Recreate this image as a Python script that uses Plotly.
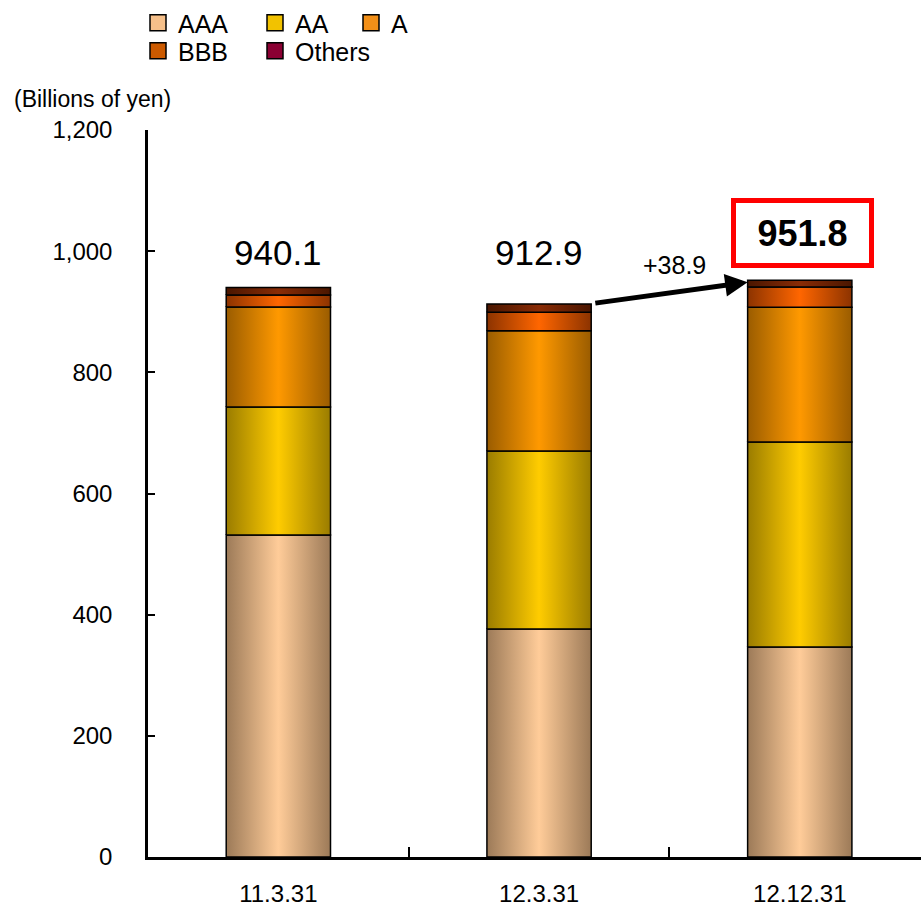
import plotly.graph_objects as go

categories = ["11.3.31", "12.3.31", "12.12.31"]
series_names = ["AAA", "AA", "A", "BBB", "Others"]
aaa = [531.5, 376.4, 346.7]
aa = [211.3, 293.8, 338.4]
a = [165.0, 198.6, 222.3]
bbb = [19.8, 30.3, 33.5]
others = [12.5, 13.8, 10.9]
totals = [940.1, 912.9, 951.8]
change_label = "+38.9"

series_values = [aaa, aa, a, bbb, others]
# gradient: edge colour, centre colour
grad = {
    "AAA": ("#9c7a58", "#ffcc99"),
    "AA": ("#9a7c00", "#ffcc00"),
    "A": ("#9a5c00", "#ff9900"),
    "BBB": ("#8c3300", "#ff6600"),
    "Others": ("#4a1600", "#8a2c06"),
}
legend_col = {
    "AAA": "#f6c08a",
    "AA": "#f2c200",
    "A": "#f39018",
    "BBB": "#cc5a00",
    "Others": "#8b0033",
}
legend_of = {"AAA": "legend", "AA": "legend", "A": "legend3",
             "BBB": "legend2", "Others": "legend2"}

half = 0.2
fig = go.Figure()
for i, cat in enumerate(categories):
    base = 0.0
    for name, vals in zip(series_names, series_values):
        top = base + vals[i]
        xs = [i - half, i + half, i + half, i - half, i - half]
        ys = [base, base, top, top, base]
        e, c = grad[name]
        fig.add_trace(go.Scatter(
            x=xs, y=ys, mode="lines", fill="toself",
            line=dict(color="black", width=1.5),
            fillgradient=dict(type="horizontal",
                              colorscale=[[0, e], [0.5, c], [1, e]]),
            showlegend=False, hoverinfo="skip"))
        base = top

for name in series_names:
    fig.add_trace(go.Scatter(
        x=[None], y=[None], name=name, mode="markers",
        marker=dict(symbol="square", size=16, color=legend_col[name],
                    line=dict(color="black", width=1.5)),
        legend=legend_of[name]))

font = "Liberation Sans, Arial, sans-serif"
leg_common = dict(orientation="h", xref="container", yref="container",
                  xanchor="left", yanchor="top", font=dict(size=25),
                  entrywidth=72, entrywidthmode="pixels", itemclick=False,
                  bgcolor="rgba(0,0,0,0)", borderwidth=0)

fig.update_layout(
    width=921, height=907,
    margin=dict(l=148, r=0, t=130, b=50),
    paper_bgcolor="white", plot_bgcolor="white",
    font=dict(family=font, color="black", size=22),
    showlegend=True,
    legend=dict(leg_common, x=138 / 921, y=1.0),
    legend3=dict(leg_common, x=351 / 921, y=1.0),
    legend2=dict(leg_common, x=138 / 921, y=1 - 28 / 907),
    xaxis=dict(range=[-0.5, 2.465], tickmode="array", tickvals=[0, 1, 2],
               ticktext=categories, ticks="", showgrid=False, zeroline=False,
               showline=True, linecolor="black", linewidth=2.5,
               ticklabelstandoff=13, tickfont=dict(size=24),
               minor=dict(tickmode="array", tickvals=[0.5, 1.5], ticks="inside",
                          ticklen=10, tickcolor="black", tickwidth=1.5,
                          showgrid=False)),
    yaxis=dict(range=[0, 1200], tickmode="array",
               tickvals=[0, 200, 400, 600, 800, 1000, 1200],
               tickformat=",", ticks="inside", ticklen=7, tickwidth=1.5,
               tickcolor="black", showgrid=False, zeroline=False,
               showline=True, linecolor="black", linewidth=2.5,
               ticklabelstandoff=28, tickfont=dict(size=24)),
)

annotations = [
    dict(x=0, y=997, xref="x", yref="y", text=f"{totals[0]:.1f}",
         showarrow=False, font=dict(size=35)),
    dict(x=1, y=997, xref="x", yref="y", text=f"{totals[1]:.1f}",
         showarrow=False, font=dict(size=35)),
    dict(x=2.012, y=1030, xref="x", yref="y", text=f"<b>{totals[2]:.1f}</b>",
         showarrow=False, font=dict(size=36), bordercolor="#ff0000",
         borderwidth=5, borderpad=2, bgcolor="white", width=129, height=56),
    dict(x=1.52, y=977, xref="x", yref="y", text=change_label,
         showarrow=False, font=dict(size=25)),
    dict(x=2 - half, y=totals[2] - 3, xref="x", yref="y",
         ax=1 + half + 0.01, ay=totals[1] + 1, axref="x", ayref="y",
         showarrow=True, arrowhead=2, arrowsize=0.9, arrowwidth=5,
         arrowcolor="black", text=""),
    dict(x=(12 - 148) / 773, y=(857 - 99) / 727, xref="paper", yref="paper",
         xanchor="left", yanchor="middle", text="(Billions of yen)",
         showarrow=False, font=dict(size=23)),
]
fig.update_layout(annotations=annotations)

fig.write_html("out.html")
